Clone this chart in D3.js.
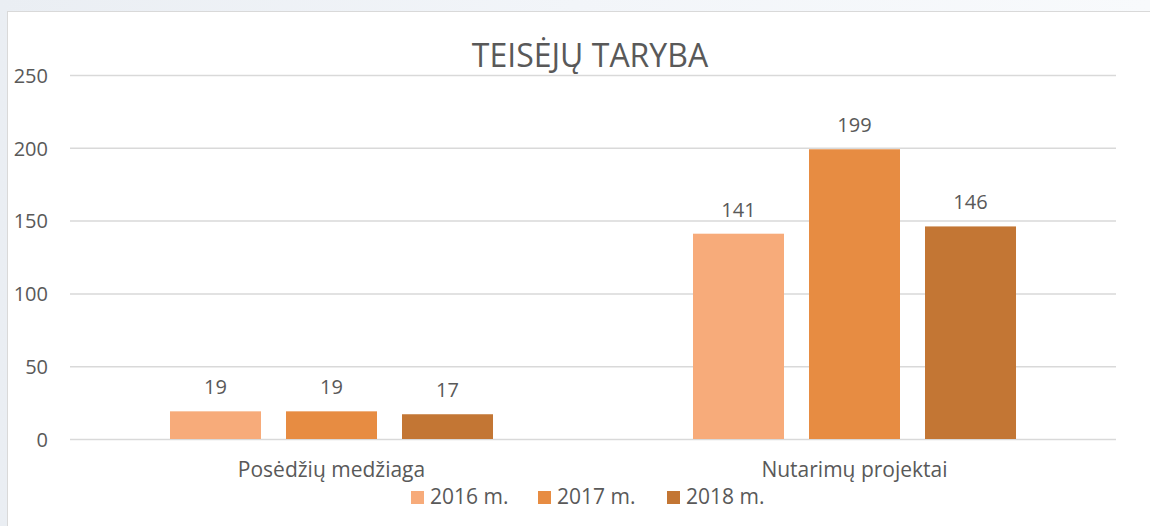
<!DOCTYPE html>
<html>
<head>
<meta charset="utf-8">
<script src="https://cdn.jsdelivr.net/npm/d3@7"></script>
<style>
  html, body { margin: 0; padding: 0; }
  body { width: 1150px; height: 526px; overflow: hidden;
         background: linear-gradient(90deg, #eaeef3 0%, #f2f5f9 50%, #f8fafc 100%); }
  svg { display: block; }
  text { font-family: "Open Sans", sans-serif; fill: #595959; }
</style>
</head>
<body>
<script>
const title = "TEISĖJŲ TARYBA";
const categories = ["Posėdžių medžiaga", "Nutarimų projektai"];
const seriesNames = ["2016 m.", "2017 m.", "2018 m."];
const values2016 = [19, 141];
const values2017 = [19, 199];
const values2018 = [17, 146];
const yTicks = [0, 50, 100, 150, 200, 250];
const colors = ["#F7AB7A", "#E78C42", "#C37634"];

const seriesValues = [values2016, values2017, values2018];
const W = 1150, H = 526;
const svg = d3.select("body").append("svg").attr("width", W).attr("height", H);

// chart box
svg.append("rect").attr("x", 7.5).attr("y", 11.5).attr("width", W).attr("height", H)
  .attr("fill", "#ffffff").attr("stroke", "#d9d9d9").attr("stroke-width", 1);

const plotL = 70, plotR = 1116, plotT = 75, plotB = 439;
const y = d3.scaleLinear().domain([0, 250]).range([plotB, plotT]);
const x0 = d3.scaleBand().domain(categories).range([plotL, plotR]).padding(0);
const x1 = d3.scaleBand().domain(seriesNames).range([0, x0.bandwidth()])
  .paddingInner(25 / 116).paddingOuter(0.862);

// gridlines
const yAxis = d3.axisLeft(y).tickValues(yTicks).tickSize(-(plotR - plotL)).tickPadding(22);
const gy = svg.append("g").attr("transform", `translate(${plotL},0)`).call(yAxis);
gy.select(".domain").remove();
gy.selectAll(".tick line").attr("stroke", "#d9d9d9").attr("stroke-width", 1.5);
gy.selectAll(".tick text").style("font-size", "20px").style("font-family", "'Open Sans', sans-serif")
  .attr("fill", "#595959").attr("dy", "0.36em");

// bars
const groups = svg.append("g").selectAll("g").data(categories).join("g")
  .attr("transform", d => `translate(${x0(d)},0)`);
groups.each(function(cat, ci) {
  const g = d3.select(this);
  const data = seriesNames.map((s, si) => ({ s, si, v: seriesValues[si][ci] }));
  g.selectAll("rect").data(data).join("rect")
    .attr("x", d => x1(d.s)).attr("width", x1.bandwidth())
    .attr("y", d => y(d.v)).attr("height", d => y(0) - y(d.v))
    .attr("fill", d => colors[d.si]);
  g.selectAll("text.val").data(data).join("text").attr("class", "val")
    .attr("x", d => x1(d.s) + x1.bandwidth() / 2)
    .attr("y", d => y(d.v) - 17)
    .attr("text-anchor", "middle").style("font-size", "20px")
    .text(d => d.v);
});

// x axis category labels
const xAxis = d3.axisBottom(x0).tickSize(0).tickPadding(0);
const gx = svg.append("g").attr("transform", `translate(0,${plotB})`).call(xAxis);
gx.select(".domain").remove();
gx.selectAll(".tick text").style("font-size", "21px").style("font-family", "'Open Sans', sans-serif")
  .attr("fill", "#595959").attr("dy", 0).attr("y", 38);

// title
svg.append("text").attr("x", 590).attr("y", 67).attr("text-anchor", "middle")
  .style("font-size", "32px").text(title);

// legend
const legendX = [411, 538, 667];
const lg = svg.append("g").selectAll("g").data(seriesNames).join("g")
  .attr("transform", (d, i) => `translate(${legendX[i]},491)`);
lg.append("rect").attr("width", 13).attr("height", 13).attr("fill", (d, i) => colors[i]);
lg.append("text").attr("x", 19).attr("y", 12.5).style("font-size", "21px").text(d => d);
</script>
</body>
</html>
